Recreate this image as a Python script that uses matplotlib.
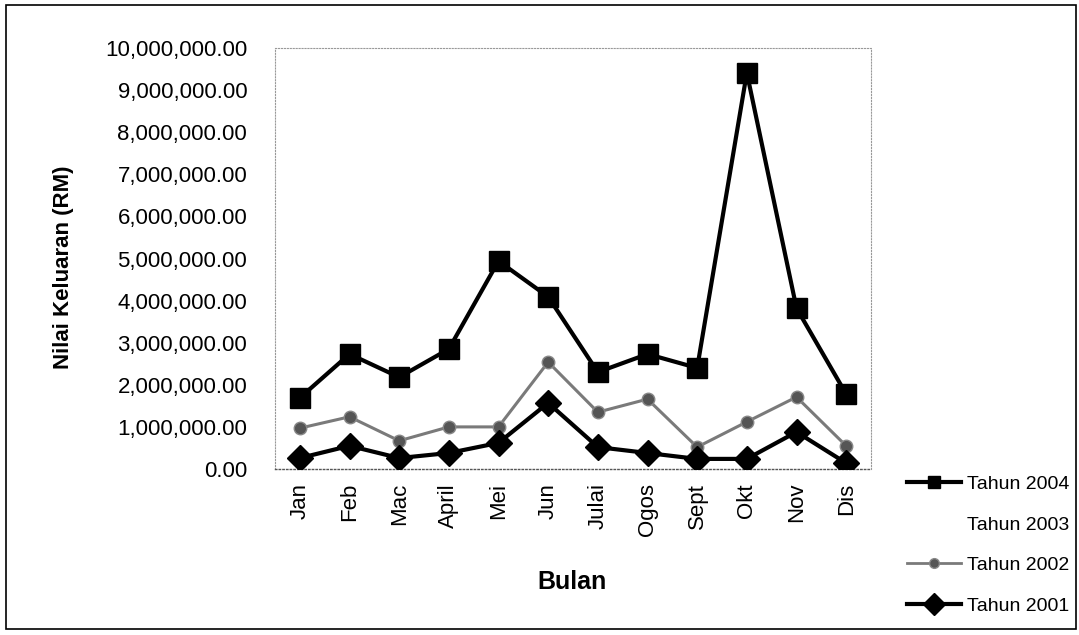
import numpy as np
import matplotlib.pyplot as plt
from matplotlib.ticker import FuncFormatter
from matplotlib.patches import Rectangle
from matplotlib.lines import Line2D

plt.rcParams['font.family'] = ['Liberation Sans', 'DejaVu Sans']

bulan = ['Jan', 'Feb', 'Mac', 'April', 'Mei', 'Jun', 'Julai', 'Ogos', 'Sept', 'Okt', 'Nov', 'Dis']
tahun_2004 = [1690000, 2730000, 2180000, 2850000, 4940000, 4090000, 2300000, 2730000, 2400000, 9410000, 3820000, 1780000]
tahun_2003 = [None] * 12   # line drawn in white in the original, not readable
tahun_2002 = [970000, 1240000, 670000, 1000000, 1000000, 2540000, 1350000, 1660000, 520000, 1120000, 1710000, 550000]
tahun_2001 = [260000, 550000, 260000, 380000, 620000, 1570000, 520000, 380000, 240000, 240000, 880000, 140000]

W, H = 1079, 635
fig = plt.figure(figsize=(W / 100, H / 100), dpi=100)
ax = fig.add_axes([275 / W, 1 - 469 / H, (871 - 275) / W, (469 - 48) / H])

x = np.arange(len(bulan))
y2003 = np.array([np.nan if v is None else v for v in tahun_2003], dtype=float)

grey = '#7a7a7a'
ax.plot(x, tahun_2004, color='black', lw=3, marker='s', ms=14, zorder=4)
ax.plot(x, y2003, color='white', lw=2, zorder=1)
ax.plot(x, tahun_2002, color=grey, lw=2.2, marker='o', ms=9,
        markerfacecolor='#555555', markeredgecolor='#888888', zorder=3)
ax.plot(x, tahun_2001, color='black', lw=3, marker='D', ms=13, zorder=5)

ax.set_xlim(-0.5, len(bulan) - 0.5)
ax.set_ylim(0, 10000000)
ax.set_yticks(np.arange(0, 10000001, 1000000))
ax.yaxis.set_major_formatter(FuncFormatter(lambda v, p: f"{v:,.2f}"))
ax.set_xticks(x)
ax.set_xticklabels(bulan, rotation=90)
ax.tick_params(axis='both', length=0, labelsize=16, colors='black')
ax.tick_params(axis='y', pad=20)
ax.tick_params(axis='x', pad=10)

for s in ['top', 'right', 'left']:
    ax.spines[s].set_color('#999999')
    ax.spines[s].set_linestyle(':')
    ax.spines[s].set_linewidth(0.8)
ax.spines['bottom'].set_color('#555555')
ax.spines['bottom'].set_linestyle(':')
ax.spines['bottom'].set_linewidth(1)

ax.set_ylabel('Nilai Keluaran (RM)', fontsize=16, fontweight='bold')
ax.yaxis.set_label_coords(-0.337, 0.48)
ax.set_xlabel('Bulan', fontsize=18, fontweight='bold')
ax.xaxis.set_label_coords(0.498, -0.24)

handles = [
    Line2D([], [], color='black', lw=3, marker='s', ms=8),
    Line2D([], [], color='white', lw=2),
    Line2D([], [], color=grey, lw=2, marker='o', ms=7,
           markerfacecolor='#555555', markeredgecolor='#888888'),
    Line2D([], [], color='black', lw=3, marker='D', ms=11),
]
labels = ['Tahun 2004', 'Tahun 2003', 'Tahun 2002', 'Tahun 2001']
fig.legend(handles, labels, loc='upper left', bbox_to_anchor=(889 / W, 1 - 458 / H), frameon=False,
           fontsize=14, handlelength=2.8, labelspacing=1.18, handletextpad=0.3)

fig.patches.append(Rectangle((6 / W, 6 / H), (W - 9) / W, (H - 11) / H,
                             transform=fig.transFigure, fill=False, edgecolor='black', lw=1.2))

fig.savefig('out.png', dpi=100)
